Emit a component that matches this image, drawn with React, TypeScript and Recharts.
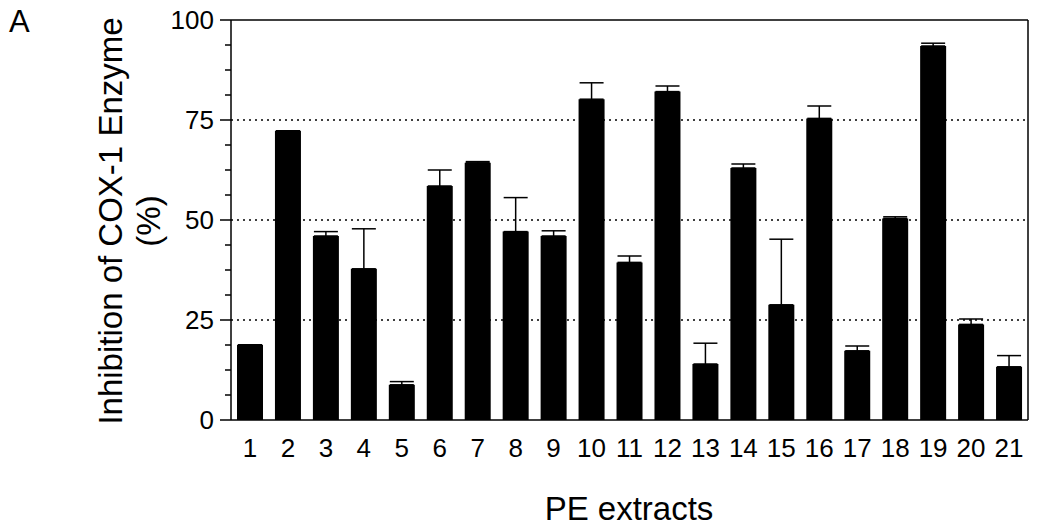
import { BarChart, Bar, XAxis, YAxis, ErrorBar, ReferenceLine } from "recharts";

const FONT = '"Liberation Sans", Arial, Helvetica, sans-serif';

// PE extract numbers and % inhibition of COX-1 (mean, upper error)
const extracts = ["1", "2", "3", "4", "5", "6", "7", "8", "9", "10", "11", "12", "13", "14", "15", "16", "17", "18", "19", "20", "21"];
const inhibition = [18.8, 72.3, 46, 37.8, 8.8, 58.5, 64.3, 47.1, 46, 80.2, 39.4, 82.1, 14, 63, 28.8, 75.4, 17.3, 50.4, 93.5, 23.9, 13.3];
const errorUp = [0, 0, 1.1, 10, 0.8, 4, 0.3, 8.5, 1.3, 4.1, 1.6, 1.4, 5.2, 1, 16.4, 3.1, 1.2, 0.4, 0.7, 1.35, 2.8];

const majorTicks = [0, 25, 50, 75, 100];
const minorTicks = [0, 6.25, 12.5, 18.75, 25, 31.25, 37.5, 43.75, 50, 56.25, 62.5, 68.75, 75, 81.25, 87.5, 93.75, 100];
const dottedLines = [25, 50, 75];

const data = extracts.map((name, i) => ({
  name,
  value: inhibition[i],
  err: [0, errorUp[i]],
}));

function LeftTick(props: any) {
  const { x, y, payload } = props;
  const major = majorTicks.includes(payload.value);
  return (
    <g>
      <line x1={x} x2={x - (major ? 11 : 6)} y1={y} y2={y} stroke="#000" strokeWidth={1.5} />
      {major && (
        <text x={x - 17} y={y} dy="0.355em" textAnchor="end" fontSize={26} fontFamily={FONT} fill="#000">
          {payload.value}
        </text>
      )}
    </g>
  );
}

function RightTick(props: any) {
  const { x, y } = props;
  return <line x1={x} x2={x + 7} y1={y} y2={y} stroke="#000" strokeWidth={1.5} />;
}

function XTick(props: any) {
  const { x, y, payload } = props;
  return (
    <text x={x} y={y} dy="0.71em" textAnchor="middle" fontSize={26} fontFamily={FONT} fill="#000">
      {payload.value}
    </text>
  );
}

function YTitle() {
  return (
    <g fontFamily={FONT} fill="#000">
      <text x={9} y={32} fontSize={31}>A</text>
      <text x={122} y={221} fontSize={33} textAnchor="middle" transform="rotate(-90 122 221)">
        Inhibition of COX-1 Enzyme
      </text>
      <text x={160} y={221} fontSize={33} textAnchor="middle" transform="rotate(-90 160 221)">
        (%)
      </text>
    </g>
  );
}

function XTitle() {
  return (
    <text x={629} y={520} fontSize={33} textAnchor="middle" fontFamily={FONT} fill="#000">
      PE extracts
    </text>
  );
}

export default function App() {
  return (
    <div style={{ position: "absolute", left: 0, top: 0, width: 1040, height: 528, background: "#fff" }}>
      <BarChart width={1040} height={528} data={data} margin={{ top: 20, right: 0, bottom: 0, left: 0 }}>
        <XAxis
          dataKey="name"
          height={108}
          tickLine={false}
          tickSize={0}
          tickMargin={19}
          interval={0}
          tick={<XTick />}
          axisLine={{ stroke: "#000", strokeWidth: 1.5 }}
          label={{ content: <XTitle /> }}
        />
        <YAxis
          yAxisId="left"
          width={231}
          domain={[0, 100]}
          ticks={minorTicks}
          interval={0}
          tickLine={false}
          tickSize={0}
          tickMargin={0}
          tick={<LeftTick />}
          axisLine={{ stroke: "#000", strokeWidth: 1.5 }}
          label={{ content: <YTitle /> }}
        />
        <YAxis
          yAxisId="right"
          orientation="right"
          width={12}
          domain={[0, 100]}
          ticks={minorTicks}
          interval={0}
          tickLine={false}
          tickSize={0}
          tickMargin={0}
          tick={<RightTick />}
          axisLine={{ stroke: "#000", strokeWidth: 1.5 }}
        />
        {dottedLines.map((v) => (
          <ReferenceLine key={v} yAxisId="left" y={v} stroke="#000" strokeWidth={1.5} strokeDasharray="2 4" />
        ))}
        <ReferenceLine yAxisId="left" y={100} stroke="#000" strokeWidth={1.5} />
        <Bar yAxisId="left" dataKey="value" fill="#000" barSize={26} isAnimationActive={false}>
          <ErrorBar dataKey="err" direction="y" width={12} stroke="#000" strokeWidth={1.5} />
        </Bar>
      </BarChart>
    </div>
  );
}
